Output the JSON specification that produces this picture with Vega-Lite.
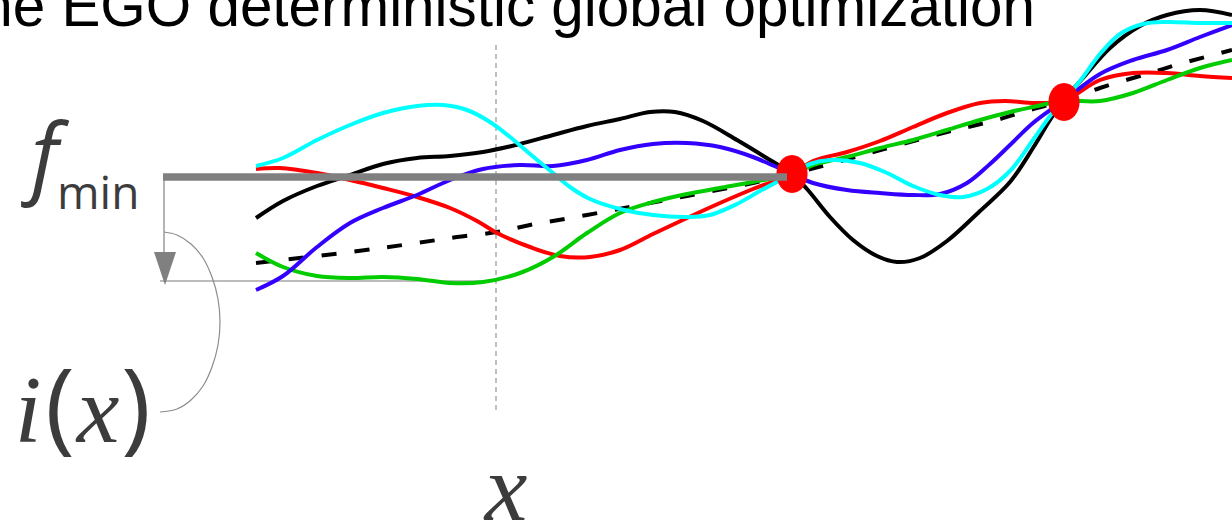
{
  "$schema": "https://vega.github.io/schema/vega-lite/v6.json",
  "width": 1232,
  "height": 524,
  "autosize": "none",
  "padding": 0,
  "background": "white",
  "config": {"view": {"stroke": null}, "axis": {"disable": true}},
  "datasets": {
    "title": [{"x": 1035, "y": 26, "t": "The EGO deterministic global optimization"}],
    "dotted": [{"x": 496, "y": 45, "y2": 412}],
    "thinv": [{"x": 164, "y": 177, "y2": 253}],
    "thinh": [{"x": 160, "x2": 495, "y": 281}],
    "fmin": [{"x": 163, "x2": 787, "y": 177}],
    "bracket": [
      {"i": 0, "x": 164, "y": 232}, {"i": 1, "x": 177, "y": 235}, {"i": 2, "x": 191, "y": 244},
      {"i": 3, "x": 203, "y": 258}, {"i": 4, "x": 212, "y": 277}, {"i": 5, "x": 218, "y": 299},
      {"i": 6, "x": 220, "y": 322}, {"i": 7, "x": 218, "y": 345}, {"i": 8, "x": 212, "y": 367},
      {"i": 9, "x": 203, "y": 386}, {"i": 10, "x": 191, "y": 400}, {"i": 11, "x": 177, "y": 409},
      {"i": 12, "x": 160, "y": 412}
    ],
    "mean": [
      {"x": 256, "y": 263}, {"x": 350, "y": 252}, {"x": 417, "y": 243}, {"x": 457, "y": 237},
      {"x": 497, "y": 232}, {"x": 530, "y": 225}, {"x": 587, "y": 215}, {"x": 687, "y": 196},
      {"x": 753, "y": 183}, {"x": 792, "y": 174}, {"x": 870, "y": 153}, {"x": 947, "y": 132},
      {"x": 993, "y": 121}, {"x": 1030, "y": 110}, {"x": 1063, "y": 101}, {"x": 1100, "y": 88},
      {"x": 1150, "y": 73}, {"x": 1183, "y": 63}, {"x": 1232, "y": 50}
    ],
    "samples": [
      {"s": "black", "x": 256, "y": 218}, {"s": "black", "x": 283, "y": 201}, {"s": "black", "x": 317, "y": 186},
      {"s": "black", "x": 350, "y": 175}, {"s": "black", "x": 383, "y": 164}, {"s": "black", "x": 417, "y": 158},
      {"s": "black", "x": 450, "y": 156}, {"s": "black", "x": 483, "y": 152}, {"s": "black", "x": 520, "y": 144},
      {"s": "black", "x": 553, "y": 135}, {"s": "black", "x": 587, "y": 126}, {"s": "black", "x": 620, "y": 119},
      {"s": "black", "x": 650, "y": 112}, {"s": "black", "x": 675, "y": 112}, {"s": "black", "x": 703, "y": 121},
      {"s": "black", "x": 737, "y": 140}, {"s": "black", "x": 770, "y": 160}, {"s": "black", "x": 792, "y": 174},
      {"s": "black", "x": 807, "y": 189}, {"s": "black", "x": 830, "y": 217}, {"s": "black", "x": 853, "y": 240},
      {"s": "black", "x": 877, "y": 256}, {"s": "black", "x": 897, "y": 262}, {"s": "black", "x": 920, "y": 258},
      {"s": "black", "x": 947, "y": 241}, {"s": "black", "x": 980, "y": 211}, {"s": "black", "x": 1010, "y": 182},
      {"s": "black", "x": 1033, "y": 148}, {"s": "black", "x": 1050, "y": 120}, {"s": "black", "x": 1063, "y": 101},
      {"s": "black", "x": 1083, "y": 78}, {"s": "black", "x": 1110, "y": 48}, {"s": "black", "x": 1140, "y": 26},
      {"s": "black", "x": 1167, "y": 15}, {"s": "black", "x": 1200, "y": 10}, {"s": "black", "x": 1232, "y": 15},

      {"s": "red", "x": 256, "y": 169}, {"s": "red", "x": 280, "y": 168}, {"s": "red", "x": 317, "y": 173},
      {"s": "red", "x": 350, "y": 180}, {"s": "red", "x": 383, "y": 188}, {"s": "red", "x": 417, "y": 197},
      {"s": "red", "x": 450, "y": 208}, {"s": "red", "x": 477, "y": 221}, {"s": "red", "x": 497, "y": 233},
      {"s": "red", "x": 530, "y": 247}, {"s": "red", "x": 560, "y": 256}, {"s": "red", "x": 590, "y": 257},
      {"s": "red", "x": 620, "y": 250}, {"s": "red", "x": 653, "y": 234}, {"s": "red", "x": 687, "y": 218},
      {"s": "red", "x": 720, "y": 203}, {"s": "red", "x": 753, "y": 189}, {"s": "red", "x": 792, "y": 174},
      {"s": "red", "x": 813, "y": 161}, {"s": "red", "x": 847, "y": 152}, {"s": "red", "x": 880, "y": 141},
      {"s": "red", "x": 913, "y": 127}, {"s": "red", "x": 947, "y": 113}, {"s": "red", "x": 980, "y": 103},
      {"s": "red", "x": 1005, "y": 101}, {"s": "red", "x": 1035, "y": 103}, {"s": "red", "x": 1063, "y": 101},
      {"s": "red", "x": 1100, "y": 80}, {"s": "red", "x": 1133, "y": 73}, {"s": "red", "x": 1167, "y": 73},
      {"s": "red", "x": 1200, "y": 76}, {"s": "red", "x": 1232, "y": 78},

      {"s": "green", "x": 256, "y": 253}, {"s": "green", "x": 283, "y": 267}, {"s": "green", "x": 317, "y": 276},
      {"s": "green", "x": 350, "y": 278}, {"s": "green", "x": 383, "y": 277}, {"s": "green", "x": 417, "y": 279},
      {"s": "green", "x": 450, "y": 283}, {"s": "green", "x": 483, "y": 282}, {"s": "green", "x": 520, "y": 273},
      {"s": "green", "x": 553, "y": 257}, {"s": "green", "x": 587, "y": 233}, {"s": "green", "x": 620, "y": 213},
      {"s": "green", "x": 653, "y": 202}, {"s": "green", "x": 687, "y": 194}, {"s": "green", "x": 720, "y": 188},
      {"s": "green", "x": 753, "y": 182}, {"s": "green", "x": 792, "y": 174}, {"s": "green", "x": 813, "y": 165},
      {"s": "green", "x": 847, "y": 157}, {"s": "green", "x": 880, "y": 148}, {"s": "green", "x": 913, "y": 140},
      {"s": "green", "x": 947, "y": 130}, {"s": "green", "x": 980, "y": 120}, {"s": "green", "x": 1010, "y": 112},
      {"s": "green", "x": 1033, "y": 107}, {"s": "green", "x": 1063, "y": 101}, {"s": "green", "x": 1100, "y": 101},
      {"s": "green", "x": 1133, "y": 93}, {"s": "green", "x": 1167, "y": 80}, {"s": "green", "x": 1200, "y": 68},
      {"s": "green", "x": 1232, "y": 60},

      {"s": "blue", "x": 256, "y": 290}, {"s": "blue", "x": 283, "y": 276}, {"s": "blue", "x": 317, "y": 247},
      {"s": "blue", "x": 350, "y": 223}, {"s": "blue", "x": 383, "y": 208}, {"s": "blue", "x": 417, "y": 195},
      {"s": "blue", "x": 450, "y": 180}, {"s": "blue", "x": 483, "y": 169}, {"s": "blue", "x": 520, "y": 165},
      {"s": "blue", "x": 553, "y": 166}, {"s": "blue", "x": 587, "y": 160}, {"s": "blue", "x": 620, "y": 150},
      {"s": "blue", "x": 653, "y": 144}, {"s": "blue", "x": 687, "y": 143}, {"s": "blue", "x": 720, "y": 147},
      {"s": "blue", "x": 753, "y": 157}, {"s": "blue", "x": 792, "y": 174}, {"s": "blue", "x": 813, "y": 183},
      {"s": "blue", "x": 847, "y": 190}, {"s": "blue", "x": 880, "y": 193}, {"s": "blue", "x": 913, "y": 195},
      {"s": "blue", "x": 940, "y": 194}, {"s": "blue", "x": 967, "y": 183}, {"s": "blue", "x": 990, "y": 164},
      {"s": "blue", "x": 1010, "y": 145}, {"s": "blue", "x": 1033, "y": 123}, {"s": "blue", "x": 1063, "y": 101},
      {"s": "blue", "x": 1100, "y": 74}, {"s": "blue", "x": 1133, "y": 60}, {"s": "blue", "x": 1167, "y": 50},
      {"s": "blue", "x": 1200, "y": 37}, {"s": "blue", "x": 1232, "y": 25},

      {"s": "cyan", "x": 256, "y": 166}, {"s": "cyan", "x": 283, "y": 158}, {"s": "cyan", "x": 317, "y": 140},
      {"s": "cyan", "x": 350, "y": 125}, {"s": "cyan", "x": 383, "y": 113}, {"s": "cyan", "x": 417, "y": 106},
      {"s": "cyan", "x": 443, "y": 105}, {"s": "cyan", "x": 467, "y": 110}, {"s": "cyan", "x": 490, "y": 122},
      {"s": "cyan", "x": 510, "y": 137}, {"s": "cyan", "x": 530, "y": 154}, {"s": "cyan", "x": 553, "y": 173},
      {"s": "cyan", "x": 570, "y": 187}, {"s": "cyan", "x": 590, "y": 199}, {"s": "cyan", "x": 620, "y": 209},
      {"s": "cyan", "x": 653, "y": 215}, {"s": "cyan", "x": 687, "y": 217}, {"s": "cyan", "x": 710, "y": 215},
      {"s": "cyan", "x": 737, "y": 204}, {"s": "cyan", "x": 760, "y": 191}, {"s": "cyan", "x": 777, "y": 182},
      {"s": "cyan", "x": 792, "y": 174}, {"s": "cyan", "x": 810, "y": 164}, {"s": "cyan", "x": 830, "y": 160},
      {"s": "cyan", "x": 860, "y": 163}, {"s": "cyan", "x": 887, "y": 173}, {"s": "cyan", "x": 913, "y": 186},
      {"s": "cyan", "x": 940, "y": 195}, {"s": "cyan", "x": 963, "y": 197}, {"s": "cyan", "x": 987, "y": 189},
      {"s": "cyan", "x": 1010, "y": 171}, {"s": "cyan", "x": 1033, "y": 140}, {"s": "cyan", "x": 1050, "y": 116},
      {"s": "cyan", "x": 1063, "y": 101}, {"s": "cyan", "x": 1080, "y": 81}, {"s": "cyan", "x": 1100, "y": 54},
      {"s": "cyan", "x": 1120, "y": 34}, {"s": "cyan", "x": 1143, "y": 24}, {"s": "cyan", "x": 1167, "y": 22},
      {"s": "cyan", "x": 1200, "y": 23}, {"s": "cyan", "x": 1232, "y": 23}
    ],
    "dots": [{"x": 792, "y": 174}, {"x": 1064, "y": 102}],
    "arrow": [{"x": 165, "y": 268.5}],
    "fLabel": [{"x": 31, "y": 187, "t": "f"}],
    "minLabel": [{"x": 57, "y": 209, "t": "min"}],
    "italicGlyphs": [{"x": 28, "y": 442, "t": "i"}, {"x": 98, "y": 442, "t": "x"}, {"x": 506, "y": 520, "t": "x"}],
    "parens": [{"x": 60, "y": 441, "t": "("}, {"x": 136, "y": 441, "t": ")"}]
  },
  "layer": [
    {
      "data": {"name": "title"},
      "mark": {"type": "text", "font": "Liberation Sans", "fontSize": 58.4, "align": "right", "baseline": "alphabetic", "color": "#000000"},
      "encoding": {
        "x": {"field": "x", "type": "quantitative", "scale": {"domain": [0, 1232], "nice": false, "zero": false}},
        "y": {"field": "y", "type": "quantitative", "scale": {"domain": [0, 524], "reverse": true, "nice": false, "zero": false}},
        "text": {"field": "t"}
      }
    },
    {
      "data": {"name": "dotted"},
      "mark": {"type": "rule", "color": "#aaaaaa", "strokeWidth": 1.5, "strokeDash": [5, 4]},
      "encoding": {
        "x": {"field": "x", "type": "quantitative", "scale": {"domain": [0, 1232], "nice": false, "zero": false}},
        "y": {"field": "y", "type": "quantitative", "scale": {"domain": [0, 524], "reverse": true, "nice": false, "zero": false}},
        "y2": {"field": "y2"}
      }
    },
    {
      "data": {"name": "thinv"},
      "mark": {"type": "rule", "color": "#8c8c8c", "strokeWidth": 1.3},
      "encoding": {
        "x": {"field": "x", "type": "quantitative", "scale": {"domain": [0, 1232], "nice": false, "zero": false}},
        "y": {"field": "y", "type": "quantitative", "scale": {"domain": [0, 524], "reverse": true, "nice": false, "zero": false}},
        "y2": {"field": "y2"}
      }
    },
    {
      "data": {"name": "thinh"},
      "mark": {"type": "rule", "color": "#a6a6a6", "strokeWidth": 1.5},
      "encoding": {
        "x": {"field": "x", "type": "quantitative", "scale": {"domain": [0, 1232], "nice": false, "zero": false}},
        "x2": {"field": "x2"},
        "y": {"field": "y", "type": "quantitative", "scale": {"domain": [0, 524], "reverse": true, "nice": false, "zero": false}}
      }
    },
    {
      "data": {"name": "bracket"},
      "mark": {"type": "line", "color": "#8c8c8c", "strokeWidth": 1.2, "interpolate": "catmull-rom"},
      "encoding": {
        "x": {"field": "x", "type": "quantitative", "scale": {"domain": [0, 1232], "nice": false, "zero": false}},
        "y": {"field": "y", "type": "quantitative", "scale": {"domain": [0, 524], "reverse": true, "nice": false, "zero": false}},
        "order": {"field": "i", "type": "quantitative"}
      }
    },
    {
      "data": {"name": "mean"},
      "mark": {"type": "line", "color": "#000000", "strokeWidth": 4, "strokeDash": [15, 18], "interpolate": "catmull-rom"},
      "encoding": {
        "x": {"field": "x", "type": "quantitative", "scale": {"domain": [0, 1232], "nice": false, "zero": false}},
        "y": {"field": "y", "type": "quantitative", "scale": {"domain": [0, 524], "reverse": true, "nice": false, "zero": false}}
      }
    },
    {
      "data": {"name": "samples"},
      "mark": {"type": "line", "strokeWidth": 4, "interpolate": "catmull-rom"},
      "encoding": {
        "x": {"field": "x", "type": "quantitative", "scale": {"domain": [0, 1232], "nice": false, "zero": false}},
        "y": {"field": "y", "type": "quantitative", "scale": {"domain": [0, 524], "reverse": true, "nice": false, "zero": false}},
        "color": {"field": "s", "type": "nominal", "legend": null, "scale": {"domain": ["black", "red", "green", "blue", "cyan"], "range": ["#000000", "#ff0000", "#00cc00", "#3300ff", "#00ffff"]}}
      }
    },
    {
      "data": {"name": "dots"},
      "mark": {"type": "point", "filled": true, "opacity": 1, "color": "#ff0000", "size": 1444, "shape": "M0,-1C0.453,-1,0.82,-0.552,0.82,0C0.82,0.552,0.453,1,0,1C-0.453,1,-0.82,0.552,-0.82,0C-0.82,-0.552,-0.453,-1,0,-1Z"},
      "encoding": {
        "x": {"field": "x", "type": "quantitative", "scale": {"domain": [0, 1232], "nice": false, "zero": false}},
        "y": {"field": "y", "type": "quantitative", "scale": {"domain": [0, 524], "reverse": true, "nice": false, "zero": false}}
      }
    },
    {
      "data": {"name": "fmin"},
      "mark": {"type": "rule", "color": "#808080", "strokeWidth": 7.5},
      "encoding": {
        "x": {"field": "x", "type": "quantitative", "scale": {"domain": [0, 1232], "nice": false, "zero": false}},
        "x2": {"field": "x2"},
        "y": {"field": "y", "type": "quantitative", "scale": {"domain": [0, 524], "reverse": true, "nice": false, "zero": false}}
      }
    },
    {
      "data": {"name": "arrow"},
      "mark": {"type": "point", "filled": true, "opacity": 1, "color": "#808080", "size": 1089, "shape": "M-0.667,-1L0.667,-1L0,1Z"},
      "encoding": {
        "x": {"field": "x", "type": "quantitative", "scale": {"domain": [0, 1232], "nice": false, "zero": false}},
        "y": {"field": "y", "type": "quantitative", "scale": {"domain": [0, 524], "reverse": true, "nice": false, "zero": false}}
      }
    },
    {
      "data": {"name": "fLabel"},
      "mark": {"type": "text", "font": "Open Sans", "fontStyle": "italic", "fontSize": 87, "align": "left", "baseline": "alphabetic", "color": "#3c3c3c"},
      "encoding": {
        "x": {"field": "x", "type": "quantitative", "scale": {"domain": [0, 1232], "nice": false, "zero": false}},
        "y": {"field": "y", "type": "quantitative", "scale": {"domain": [0, 524], "reverse": true, "nice": false, "zero": false}},
        "text": {"field": "t"}
      }
    },
    {
      "data": {"name": "minLabel"},
      "mark": {"type": "text", "font": "Open Sans", "fontSize": 46, "align": "left", "baseline": "alphabetic", "color": "#3c3c3c"},
      "encoding": {
        "x": {"field": "x", "type": "quantitative", "scale": {"domain": [0, 1232], "nice": false, "zero": false}},
        "y": {"field": "y", "type": "quantitative", "scale": {"domain": [0, 524], "reverse": true, "nice": false, "zero": false}},
        "text": {"field": "t"}
      }
    },
    {
      "data": {"name": "italicGlyphs"},
      "mark": {"type": "text", "font": "Liberation Serif", "fontStyle": "italic", "fontSize": 96, "align": "center", "baseline": "alphabetic", "color": "#3c3c3c"},
      "encoding": {
        "x": {"field": "x", "type": "quantitative", "scale": {"domain": [0, 1232], "nice": false, "zero": false}},
        "y": {"field": "y", "type": "quantitative", "scale": {"domain": [0, 524], "reverse": true, "nice": false, "zero": false}},
        "text": {"field": "t"}
      }
    },
    {
      "data": {"name": "parens"},
      "mark": {"type": "text", "font": "Open Sans", "fontSize": 100, "align": "center", "baseline": "alphabetic", "color": "#3c3c3c"},
      "encoding": {
        "x": {"field": "x", "type": "quantitative", "scale": {"domain": [0, 1232], "nice": false, "zero": false}},
        "y": {"field": "y", "type": "quantitative", "scale": {"domain": [0, 524], "reverse": true, "nice": false, "zero": false}},
        "text": {"field": "t"}
      }
    }
  ]
}
